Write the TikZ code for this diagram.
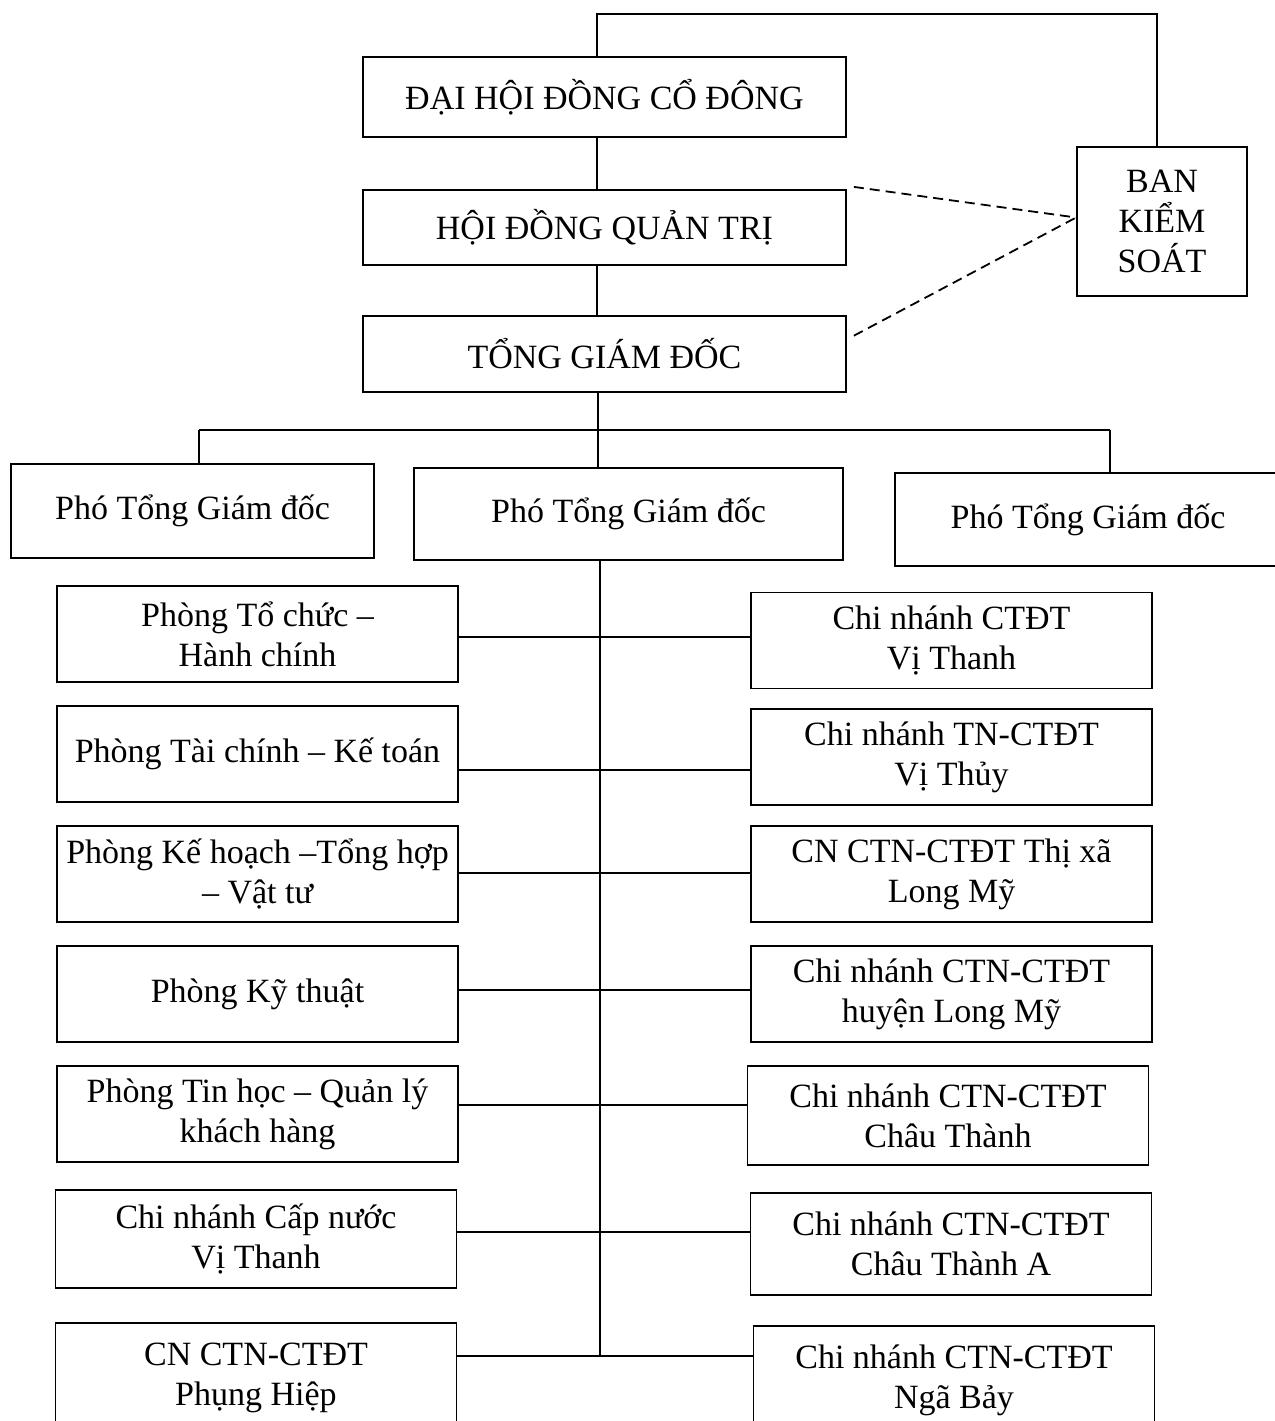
\documentclass[tikz,border=0pt]{standalone}
\usepackage{fontspec}
\setmainfont{Liberation Serif}
\usepackage{tikz}
\usetikzlibrary{positioning}

\begin{document}
\begin{tikzpicture}[
  x=0.5pt, y=-0.5pt,
  line width=0.9pt,
  node distance=25pt,
  orgbox/.style={rectangle, draw, align=center, inner sep=2pt, font=\fontsize{17}{20}\selectfont},
  board/.style={orgbox, minimum width=241.5pt, minimum height=38pt},
  deputy/.style={orgbox, minimum height=46.5pt},
  dept/.style={orgbox, minimum width=200.5pt, minimum height=48pt},
  watch/.style={dash pattern=on 5pt off 3pt}
]
\useasboundingbox (0,0) rectangle (1275,1421);

% Top of the chart
\node[board, minimum height=40pt] (dhdcd) at (604.5,97) {ĐẠI HỘI ĐỒNG CỔ ĐÔNG};
\node[board, minimum height=37.5pt, below=25.5pt of dhdcd] (hdqt) {HỘI ĐỒNG QUẢN TRỊ};
\node[board, below=24.5pt of hdqt] (tgd) {TỔNG GIÁM ĐỐC};
\node[orgbox, minimum width=85pt, minimum height=74.5pt] (bks) at (1162,221.5) {BAN\\KIỂM\\SOÁT};

% Deputies
\node[deputy, minimum width=181.5pt, minimum height=47pt] (pho1) at (192.5,511) {Phó Tổng Giám đốc};
\node[deputy, minimum width=214.5pt, minimum height=46pt] (pho2) at (628.5,514) {Phó Tổng Giám đốc};
\node[deputy, minimum width=202pt] (pho3) at (1097,519.5) {Phó Tổng Giám đốc\hspace*{9pt}};

% Departments (left)
\node[dept] (l1) at (257.5,634) {Phòng Tổ chức –\\Hành chính};
\node[dept] (l2) at (257.5,754) {Phòng Tài chính – Kế toán};
\node[dept] (l3) at (257.5,874) {Phòng Kế hoạch –Tổng hợp\\– Vật tư};
\node[dept] (l4) at (257.5,994) {Phòng Kỹ thuật};
\node[dept] (l5) at (257.5,1114) {Phòng Tin học – Quản lý\\khách hàng};
\node[dept, minimum height=49pt] (l6) at (256,1239) {Chi nhánh Cấp nước\\Vị Thanh};
\node[dept, minimum height=55pt] (l7) at (256,1378) {CN CTN-CTĐT\\Phụng Hiệp};

% Branches (right)
\node[dept] (r1) at (951.5,640.5) {Chi nhánh CTĐT\\Vị Thanh};
\node[dept] (r2) at (951.5,757) {Chi nhánh TN-CTĐT\\Vị Thủy};
\node[dept] (r3) at (951.5,874) {CN CTN-CTĐT Thị xã\\Long Mỹ};
\node[dept] (r4) at (951.5,994) {Chi nhánh CTN-CTĐT\\huyện Long Mỹ};
\node[dept, minimum height=49.5pt] (r5) at (948,1115.5) {Chi nhánh CTN-CTĐT\\Châu Thành};
\node[dept, minimum height=51pt] (r6) at (951,1244) {Chi nhánh CTN-CTĐT\\Châu Thành A};
\node[dept, minimum height=54pt] (r7) at (954,1380) {Chi nhánh CTN-CTĐT\\Ngã Bảy};

% Helper points
\coordinate (topL) at (597,14);
\coordinate (topR) at (1157,14);
\coordinate (busL) at (199,430);
\coordinate (busM) at (598,430);
\coordinate (busR) at (1110,430);
\coordinate (j1) at (600,637);
\coordinate (j2) at (600,770);
\coordinate (j3) at (600,873);
\coordinate (j4) at (600,990);
\coordinate (j5) at (600,1105);
\coordinate (j6) at (600,1232);
\coordinate (j7) at (600,1356);

% Main line
\draw (dhdcd.north -| topL) -- (topL) -- (topR) -- (bks.north -| topR);
\draw (dhdcd.south -| topL) -- (hdqt.north -| topL);
\draw (hdqt.south -| topL) -- (tgd.north -| topL);
\draw (tgd.south -| busM) -- (pho2.north -| busM);
\draw (busL) -- (busR);
\draw (busL) -- (pho1.north -| busL);
\draw (busR) -- (pho3.north -| busR);

% Supervision (dashed)
\draw[watch] ([xshift=3.5pt,yshift=1pt]hdqt.north east) -- ([yshift=2pt]bks.west);
\draw[watch] ([xshift=3.5pt,yshift=-10.5pt]tgd.north east) -- ([yshift=2pt]bks.west);

% Spine and rows
\draw (pho2.south -| j1) -- (j7);
\draw (l1.east |- j1) -- (r1.west |- j1);
\draw (l2.east |- j2) -- (r2.west |- j2);
\draw (l3.east |- j3) -- (r3.west |- j3);
\draw (l4.east |- j4) -- (r4.west |- j4);
\draw (l5.east |- j5) -- (r5.west |- j5);
\draw (l6.east |- j6) -- (r6.west |- j6);
\draw (l7.east |- j7) -- (r7.west |- j7);

\end{tikzpicture}
\end{document}
